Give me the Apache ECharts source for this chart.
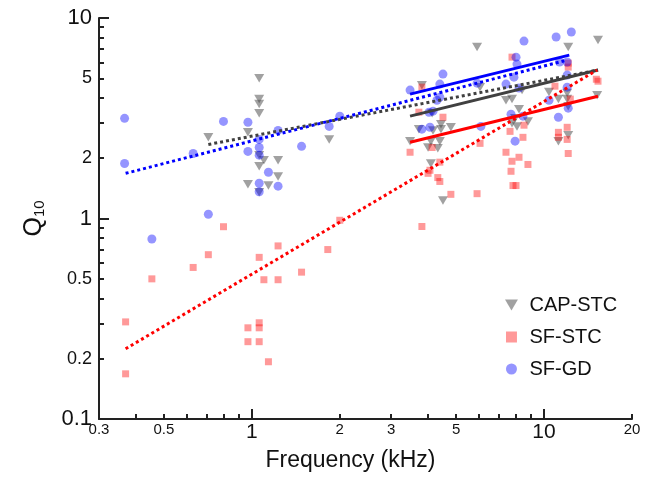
<!DOCTYPE html>
<html>
<head>
<meta charset="utf-8">
<title>Q10 vs frequency</title>
<script src="https://cdn.jsdelivr.net/npm/echarts@6/dist/echarts.min.js"></script>
<style>
  html, body { margin: 0; padding: 0; background: #fff; }
  #chart { width: 657px; height: 486px; }
</style>
</head>
<body>
<div id="chart"></div>
<script>
// points are [frequency (kHz), Q10]
const capStc = [
  [1.06, 5.01], [1.06, 3.94], [1.06, 3.72], [1.06, 3.35], [0.71, 2.54], [0.97, 2.69],
  [1.06, 2.07], [1.10, 1.95], [1.23, 1.95], [1.06, 1.82], [1.23, 1.62], [0.97, 1.48],
  [1.14, 1.46], [1.06, 1.35], [1.84, 2.48],
  [5.90, 7.16], [12.1, 7.16], [15.3, 7.76], [3.82, 4.62], [6.04, 4.52], [8.41, 4.37],
  [7.41, 3.89], [7.77, 3.94], [10.4, 4.27], [11.2, 3.94], [12.0, 4.22], [12.0, 3.94],
  [12.1, 3.63], [15.2, 4.12], [8.21, 3.51], [7.96, 3.16], [8.81, 3.05], [7.77, 2.99],
  [8.08, 2.88], [3.73, 2.79], [4.17, 2.75], [4.44, 2.95], [4.44, 2.79], [4.80, 2.85],
  [4.14, 3.35], [3.48, 2.43], [4.10, 2.43], [4.40, 2.43], [4.01, 2.26], [4.33, 2.24],
  [4.10, 1.88], [4.51, 1.23], [12.1, 2.60], [11.2, 2.43]
]
const sfStc = [
  [0.37, 0.305], [0.37, 0.168], [0.455, 0.50], [0.63, 0.57], [0.71, 0.66], [0.80, 0.91],
  [1.06, 0.64], [1.23, 0.73], [1.10, 0.495], [1.23, 0.495], [1.48, 0.54], [1.82, 0.70],
  [2.0, 0.98], [0.97, 0.285], [1.06, 0.302], [1.06, 0.285], [0.97, 0.243], [1.06, 0.243],
  [1.14, 0.193],
  [3.82, 4.52], [3.73, 3.39], [4.51, 3.20], [3.48, 2.14], [4.14, 2.26], [4.40, 1.91],
  [4.01, 1.68], [4.07, 1.74], [4.33, 1.60], [4.40, 1.53], [4.80, 1.32], [5.90, 1.33],
  [6.04, 2.37], [3.82, 0.912], [7.41, 2.14], [7.77, 1.93], [8.21, 2.02], [7.71, 1.72],
  [8.81, 1.86], [7.83, 1.46], [8.02, 1.46], [7.65, 2.72], [8.54, 2.92], [8.47, 2.54],
  [7.77, 6.38], [10.9, 4.57], [11.2, 2.69], [12.0, 2.85], [11.2, 2.54], [12.0, 2.48],
  [12.1, 2.11], [12.1, 5.96], [12.1, 5.69], [15.1, 4.95], [15.3, 4.84], [12.3, 3.94]
]
const sfGd = [
  [0.367, 3.16], [0.367, 1.88], [0.455, 0.79], [0.63, 2.11], [0.71, 1.05], [0.80, 3.05],
  [0.97, 3.02], [0.97, 2.16], [1.06, 2.48], [1.06, 2.26], [1.06, 2.07], [1.23, 2.75],
  [1.14, 1.70], [1.06, 1.50], [1.23, 1.45], [1.06, 1.36], [1.48, 2.29], [1.84, 2.88],
  [2.0, 3.24],
  [3.48, 4.37], [4.51, 5.25], [4.40, 4.68], [4.40, 4.03], [4.30, 3.89], [4.04, 3.39],
  [4.17, 3.43], [3.82, 2.79], [4.07, 2.85], [6.08, 2.88], [5.90, 4.73], [7.41, 4.68],
  [7.89, 5.07], [8.08, 5.89], [8.02, 6.38], [8.54, 7.67], [8.21, 4.47], [7.71, 3.31],
  [8.47, 3.24], [7.96, 2.43], [10.4, 3.89], [11.2, 3.20], [11.0, 8.04], [12.4, 8.51],
  [12.0, 5.19], [12.0, 4.52], [12.1, 3.55], [11.3, 6.03], [12.0, 6.03]
]

// fit lines, end points
const capFitDot = [[0.71, 2.34], [15.3, 5.50]]
const capFitLine = [[3.48, 3.24], [15.3, 5.50]]
const stcFitDot = [[0.37, 0.224], [15.2, 5.50]]
const stcFitLine = [[3.48, 2.40], [15.3, 4.07]]
const gdFitDot = [[0.37, 1.68], [12.0, 6.17]]
const gdFitLine = [[3.48, 4.17], [12.2, 6.53]]

const xTicks = [0.4, 0.5, 0.6, 0.7, 0.8, 0.9, 2, 3, 4, 5, 6, 7, 8, 9, 20]
const xMajorTicks = [1, 10]
const xLabels = [0.3, 0.5, 1, 2, 3, 5, 10, 20]
const yTicks = [0.2, 0.3, 0.4, 0.5, 0.6, 0.7, 0.8, 0.9, 2, 3, 4, 5, 6, 7, 8, 9]
const yMajorTicks = [0.1, 1, 10]
const yLabels = [0.1, 0.2, 0.5, 1, 2, 5, 10]

const font = 'Liberation Sans, Arial, sans-serif'
const axisColor = '#222'
const downTriangle = 'path://M0,0L10,0L5,8.5Z'
const square = 'path://M0,0L10,0L10,10L0,10Z'

function bigOrSmall(big) {
  return function (v) {
    return big.indexOf(v) >= 0 ? '{b|' + v + '}' : '{s|' + v + '}'
  }
}

function logAxis(min, max, opts) {
  return Object.assign({
    type: 'log',
    logBase: 10,
    min: min,
    max: max,
    splitLine: { show: false },
    axisLine: { show: true, lineStyle: { color: axisColor, width: 2 } }
  }, opts)
}

const chart = echarts.init(document.getElementById('chart'))

function scatter(name, data, symbol, size, color) {
  return {
    name: name,
    type: 'scatter',
    data: data,
    symbol: symbol,
    symbolSize: size,
    itemStyle: { color: color },
    z: 2
  }
}

function fit(name, data, color, dotted) {
  return {
    name: name,
    type: 'line',
    data: data,
    showSymbol: false,
    symbol: 'none',
    silent: true,
    lineStyle: {
      color: color,
      width: 3,
      type: dotted ? [3, 3] : 'solid'
    },
    z: 3
  }
}

chart.setOption({
  animation: false,
  backgroundColor: '#fff',
  grid: { left: 99, right: 25, top: 18, bottom: 67 },
  legend: {
    data: ['CAP-STC', 'SF-STC', 'SF-GD'],
    orient: 'vertical',
    left: 500,
    top: 290,
    itemWidth: 22,
    itemHeight: 11,
    itemGap: 12,
    textStyle: { fontFamily: font, fontSize: 20, color: '#111', lineHeight: 20, padding: [0, 0, 0, 2] }
  },
  xAxis: [
    logAxis(0.3, 20, {
      position: 'bottom',
      name: 'Frequency (kHz)',
      nameLocation: 'middle',
      nameGap: 30,
      nameTextStyle: { fontFamily: font, fontSize: 23, color: '#111', padding: [0, 30, 0, 0] },
      axisTick: { show: true, inside: true, length: 5, customValues: xTicks, lineStyle: { color: axisColor, width: 2 } },
      axisLabel: {
        customValues: xLabels,
        margin: 3,
        formatter: bigOrSmall(xMajorTicks),
        rich: {
          b: { fontFamily: font, fontSize: 21, color: '#111' },
          s: { fontFamily: font, fontSize: 15, color: '#111' }
        }
      }
    }),
    logAxis(0.3, 20, {
      position: 'bottom',
      offset: 0,
      axisLine: { show: false },
      axisTick: { show: true, inside: true, length: 10, customValues: xMajorTicks, lineStyle: { color: axisColor, width: 2 } },
      axisLabel: { show: false }
    })
  ],
  yAxis: [
    logAxis(0.1, 10, {
      position: 'left',
      name: '{q|Q}{s|10}',
      nameLocation: 'middle',
      nameGap: 52,
      nameTextStyle: {
        rich: {
          q: { fontFamily: font, fontSize: 25, color: '#111' },
          s: { fontFamily: font, fontSize: 15, color: '#111', padding: [10, 0, 0, 0] }
        }
      },
      axisTick: { show: true, inside: true, length: 5, customValues: yTicks, lineStyle: { color: axisColor, width: 2 } },
      axisLabel: {
        customValues: yLabels,
        margin: 7,
        formatter: bigOrSmall(yMajorTicks),
        rich: {
          b: { fontFamily: font, fontSize: 22, color: '#111' },
          s: { fontFamily: font, fontSize: 18, color: '#111' }
        }
      }
    }),
    logAxis(0.1, 10, {
      position: 'left',
      offset: 0,
      axisLine: { show: false },
      axisTick: { show: true, inside: true, length: 10, customValues: yMajorTicks, lineStyle: { color: axisColor, width: 2 } },
      axisLabel: { show: false }
    })
  ],
  series: [
    scatter('CAP-STC', capStc, downTriangle, [10, 8.5], 'rgba(64,64,64,0.62)'),
    scatter('SF-STC', sfStc, square, 7, 'rgba(255,0,0,0.5)'),
    scatter('SF-GD', sfGd, 'circle', 9, 'rgba(0,0,255,0.52)'),
    fit('CAP-STC fit dot', capFitDot, '#404040', true),
    fit('CAP-STC fit', capFitLine, '#404040', false),
    fit('SF-STC fit dot', stcFitDot, '#ff0000', true),
    fit('SF-STC fit', stcFitLine, '#ff0000', false),
    fit('SF-GD fit dot', gdFitDot, '#0000ff', true),
    fit('SF-GD fit', gdFitLine, '#0000ff', false)
  ]
})
</script>
</body>
</html>
